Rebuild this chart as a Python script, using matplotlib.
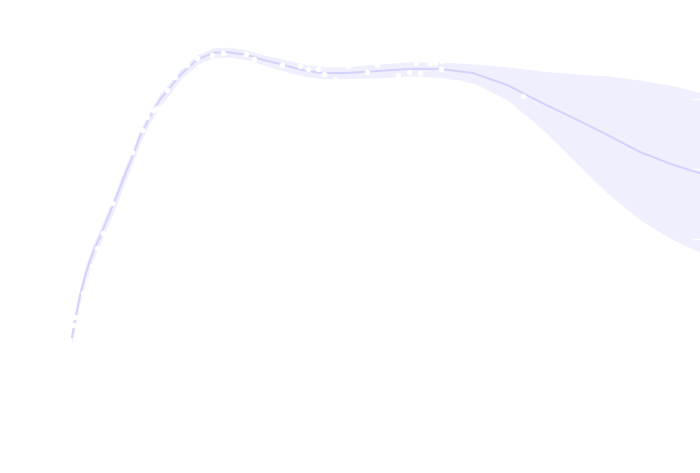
import matplotlib
matplotlib.use("Agg")
import matplotlib.pyplot as plt

# smoothed fit
fit_x = [0.00, 0.06, 0.13, 0.22, 0.33, 0.45, 0.57, 0.69, 0.81, 0.96, 1.08, 1.24,
         1.40, 1.56, 1.72, 1.99, 2.25, 2.47, 2.79, 3.04, 3.36, 3.68, 4.00, 4.35,
         4.70, 5.06, 5.38, 5.86, 6.39, 6.93, 7.45, 7.98, 8.52, 9.05, 9.57, 10.00]
fit_y = [-0.40, -0.10, 0.20, 0.51, 0.80, 1.04, 1.30, 1.56, 1.84, 2.17, 2.46, 2.74,
         2.99, 3.16, 3.34, 3.56, 3.66, 3.67, 3.63, 3.56, 3.49, 3.41, 3.37, 3.37,
         3.39, 3.41, 3.43, 3.43, 3.37, 3.20, 2.96, 2.73, 2.49, 2.24, 2.06, 1.94]
ci_hi = [-0.29, 0.01, 0.31, 0.63, 0.91, 1.16, 1.41, 1.67, 1.96, 2.27, 2.56, 2.83,
         3.07, 3.24, 3.41, 3.63, 3.73, 3.74, 3.70, 3.63, 3.57, 3.50, 3.46, 3.46,
         3.49, 3.51, 3.53, 3.53, 3.50, 3.46, 3.40, 3.36, 3.33, 3.27, 3.19, 3.09]
ci_lo = [-0.51, -0.21, 0.09, 0.40, 0.69, 0.93, 1.19, 1.44, 1.73, 2.07, 2.36, 2.66,
         2.90, 3.07, 3.27, 3.49, 3.59, 3.60, 3.56, 3.49, 3.40, 3.33, 3.29, 3.29,
         3.30, 3.31, 3.33, 3.31, 3.23, 2.99, 2.60, 2.13, 1.66, 1.27, 0.99, 0.81]

# observations (drawn white)
obs_x = [0.02, 0.05, 0.18, 0.29, 0.32, 0.40, 0.49, 0.64, 0.96, 1.11, 1.19, 1.29,
         1.35, 1.51, 1.64, 1.83, 1.99, 2.23, 2.40, 2.77, 2.90, 3.34, 3.63, 3.76,
         3.92, 4.01, 4.19, 4.39, 4.70, 4.86, 5.19, 5.37, 5.48, 5.54, 5.70, 5.78,
         5.88, 5.89, 6.13, 7.18]
obs_y = [-0.23, -0.11, 0.23, 0.46, 0.61, 0.87, 1.09, 1.51, 2.24, 2.56, 2.74, 2.84,
         2.87, 3.13, 3.31, 3.49, 3.59, 3.63, 3.66, 3.64, 3.57, 3.49, 3.47, 3.43,
         3.43, 3.36, 3.29, 3.47, 3.39, 3.49, 3.34, 3.39, 3.51, 3.37, 3.51, 3.51,
         3.43, 3.54, 3.24, 3.04]

fig = plt.figure(figsize=(7, 4.73), dpi=100)
ax = fig.add_axes([0, 0, 1, 1])

ax.fill_between(fit_x, ci_lo, ci_hi, color="#efeffd", lw=0)
ax.plot(fit_x, fit_y, color="#d2d2fc", lw=1.4, solid_joinstyle="round")
ax.scatter(obs_x, obs_y, s=16, color="white", zorder=3, lw=0)

ax.set_xlim(-1.146, 10.0)
ax.set_ylim(-2.343, 4.414)
for s in ax.spines.values():
    s.set_visible(False)
ax.set_xticks([])
ax.set_yticks([1, 2, 3])
ax.yaxis.tick_right()
ax.tick_params(axis="y", direction="in", length=6, color="white",
               labelright=False, width=1)

fig.savefig("out.png", dpi=100, facecolor="white")
